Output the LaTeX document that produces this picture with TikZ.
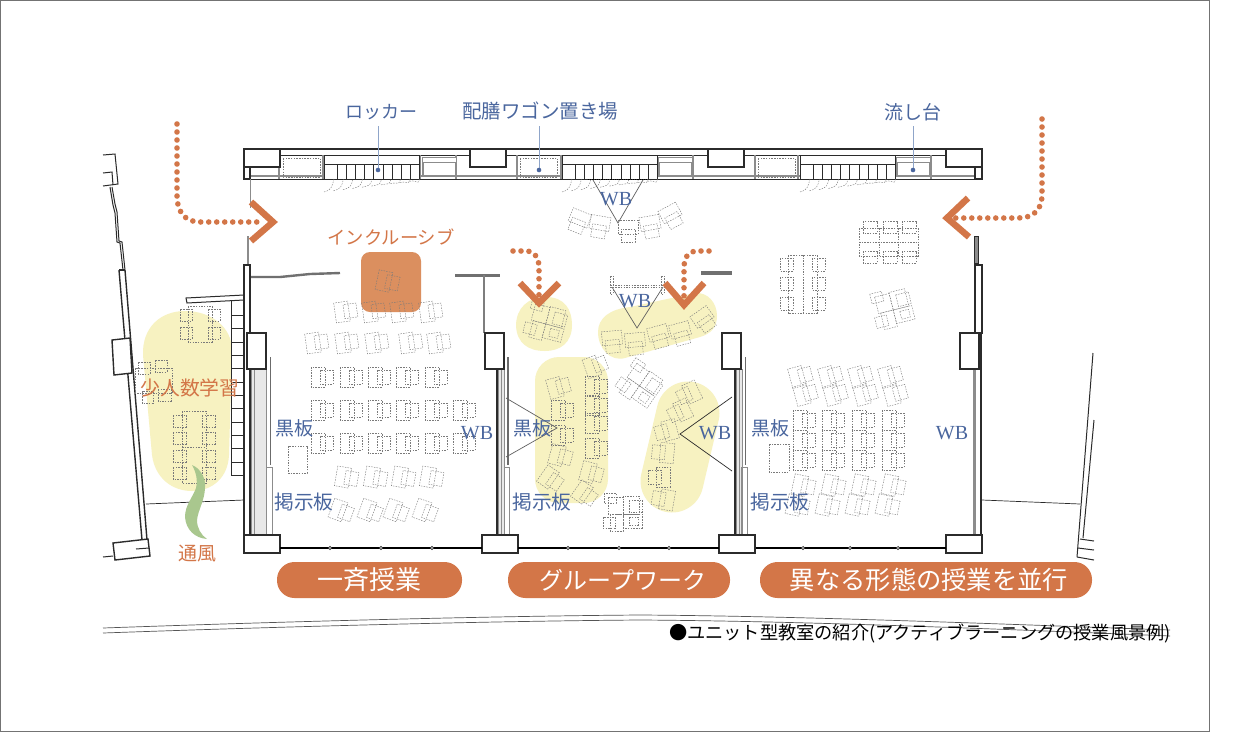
\documentclass[tikz,border=0pt]{standalone}
\usepackage{fontspec}
\setmainfont{Liberation Serif}
\newfontfamily\jp{Noto Sans CJK JP}
\definecolor{orangeA}{HTML}{D37648}
\definecolor{orangeB}{HTML}{DB8F5F}
\definecolor{blueA}{HTML}{4A669E}
\definecolor{blueB}{HTML}{8FA5C9}
\definecolor{yelA}{HTML}{F7F2C1}
\definecolor{greenA}{HTML}{A9C78E}
\definecolor{wallA}{HTML}{2B2B2B}
\definecolor{wallB}{HTML}{8C8C8C}
\definecolor{furnA}{HTML}{7A7A7A}
\newcommand{\fs}[1]{\fontsize{#1}{#1}\selectfont}
\tikzset{
 furn/.style={draw=furnA,line width=.42pt,dash pattern=on 1.5pt off 1.2pt},
 desk/.pic={\draw[furn] (-7,-10) rectangle (7,10); \draw[furn] (2,-7) rectangle (15,7);},
 cluster/.pic={
  \draw[furn] (-15,-16) rectangle (0,1);
  \draw[furn] (0,-17) rectangle (16,1);
  \draw[furn] (-13,1) rectangle (0,18);
  \draw[furn] (0,1) rectangle (19,15);
  \draw[furn] (-19,-20) rectangle (-7,-10);
  \draw[furn] (6,-13) rectangle (19,-1);
  \draw[furn] (-20,4) rectangle (-8,15);
  \draw[furn] (6,4) rectangle (15,12);},
 wall/.style={draw=wallA,line width=1.4pt},
 wallthin/.style={draw=wallA,line width=1pt},
 pillar/.style={draw=wallA,line width=1.4pt,fill=white},
 graywall/.style={draw=wallB,line width=1.1pt},
 road/.style={draw=wallA!80,line width=.7pt},
 leader/.style={draw=blueB,line width=.9pt},
 sight/.style={draw=wallA!75,line width=.7pt},
 dots/.style={draw=orangeA,line width=5.6pt,line cap=round,dash pattern=on 0pt off 8pt},
 chev/.style={draw=orangeA,line width=6.5pt},
 lblblue/.style={text=blueA,inner sep=0pt,font=\jp\fs{19}},
 lblwb/.style={text=blueA,inner sep=0pt,font=\fs{20}},
 lblor/.style={text=orangeA,inner sep=0pt,font=\jp\fs{19}},
 banner/.style={fill=orangeA,rounded corners=17.5pt},
 bantext/.style={text=white,inner sep=0pt},
 hinge/.style={draw=wallA,fill=white,line width=.6pt},
}
\begin{document}
\begin{tikzpicture}[x=1pt,y=-1pt]
\useasboundingbox (0,0) rectangle (1236,732);
\fill[white] (0,0) rectangle (1236,732);
\draw[draw=black!55,line width=1pt] (0.5,0.5) rectangle (1209,731);

% yellow zones
\fill[yelA] (185,311) .. controls (160,311) and (142,328) .. (143,355) -- (152,455) .. controls (155,478) and (172,491) .. (192,491) .. controls (212,491) and (228,478) .. (229,455) -- (232,350) .. controls (232,328) and (212,311) .. (185,311) -- cycle;
\fill[yelA] (546,297) .. controls (565,297) and (572,310) .. (572,325) .. controls (572,343) and (560,351) .. (545,351) .. controls (528,351) and (517,343) .. (516,326) .. controls (516,308) and (528,297) .. (546,297) -- cycle;
\fill[yelA] (598,332) .. controls (598,318) and (610,309) .. (630,307) -- (695,293) .. controls (708,292) and (717,303) .. (717,316) .. controls (717,328) and (710,334) .. (700,337) -- (625,358) .. controls (610,362) and (598,348) .. (598,332) -- cycle;
\fill[yelA,rounded corners=24pt] (535,357) rectangle (608,503);
\draw[yelA,line width=63pt,line cap=round] (688,413) -- (672,481);
\fill[orangeB,rounded corners=9pt] (361,252) rectangle (421,312);

% outer left structure
\draw[wallthin] (103,155) -- (115,154) -- (118,184) -- (103,186);
\draw[wallthin] (103,173) -- (112,172) -- (113,185);
\draw[wallthin] (110,187) -- (113,205) -- (115,213) -- (117,242) -- (120,243) -- (123,270);
\draw[wallthin] (112,187) -- (115,204) -- (117,212) -- (119,241) -- (122,242) -- (125,270);
\draw[wall] (119,270) -- (125,270);
\draw[wall] (119,270) -- (142,540);
\draw[wall] (125,270) -- (147,540);
\draw[pillar] (112,340) -- (130,338) -- (132,373) -- (114,375) -- cycle;
\draw[pillar] (113,543) -- (148,539) -- (150,556) -- (115,560) -- cycle;
\draw[wallthin] (103,557) -- (113,556);
\draw[wallthin] (136,549) -- (149,548);
\draw[draw=wallA,line width=.7pt] (146,504) -- (244,500);
% shelves
\draw[wallthin,fill=white] (186,298) -- (244,295) -- (244,300) -- (187,303) -- cycle;
\draw[wallthin] (231,301) -- (231,475) -- (244,475);
\foreach \y in {315,328,342,355,368,382,395,408,422,435,448,462} \draw[wallthin] (231,\y) -- (244,\y);

% outer right structure
\draw[draw=wallA,line width=.7pt] (982,500) -- (1080,504);
\draw[wallthin] (1093,353) -- (1077,557);
\draw[wallthin] (1094,420) -- (1083,538);
\draw[wallthin] (1080,539) -- (1094,541);
\draw[wallthin] (1078,548) -- (1094,550);
\draw[wallthin] (1077,557) -- (1094,560);

% top service band
\draw[draw=wallA,line width=1.8pt] (244,149) -- (982,149);
\foreach \a/\b in {280/470,506/708,744/946} \draw[wallthin] (\a,155) -- (\b,155);
\draw[graywall] (250,176) -- (975,176);
\draw[wallthin] (250,179) -- (975,179);
\foreach \x in {279,323,420,456,517,561,657,693,755,798,895,931} \draw[graywall,line width=1.6pt] (\x,155) -- (\x,179);
\foreach \x in {283,520,758} \draw[furn] (\x,158) rectangle ++(37,19);
\foreach \x in {422,658,896} {
 \draw[graywall,fill=white,line width=.8pt] (\x,157) rectangle ++(34,19);
 \draw[graywall,fill=white,line width=.8pt] (\x+1,162) rectangle ++(32,13);
}
\foreach \x in {324,562,800} {
 \draw[wallthin,fill=white] (\x,155.5) rectangle ++(95,23.5);
 \draw[wallthin] (\x,164) -- ++(95,0);
 \foreach \d in {13,22.2,31.4,40.6,49.8,59,68.2,77.4,86.6} \draw[draw=wallA,line width=.7pt] (\x+\d,164) -- (\x+\d,179);
 \foreach \d in {0,9.5,19,28.5,38,47.5,57,66.5,76,85.5}
   \draw[furn] (\x+\d,192-\d/8) .. controls (\x+\d+8,190-\d/8) and (\x+\d+8,186) .. (\x+\d+10,179);
}
\foreach \x in {244,470,708,946} \draw[pillar] (\x,149) rectangle ++(36,18);
\draw[pillar] (244,167) rectangle (250,179);
\draw[pillar] (975,167) rectangle (982,179);

% partitions and wings
\draw[graywall,line width=1.6pt] (250.5,179) -- (250.5,208);
\draw[graywall] (248,236) -- (248,264);
\draw[draw=wallB,line width=3pt] (976,237) -- (976,264);
\draw[draw=wallA,line width=.6pt] (974,236) rectangle (978,263);
\draw[draw=wallB!80!black,line width=2.4pt] (250,277) -- (280,277) -- (310,274) -- (340,273);
\draw[draw=wallB!80!black,line width=3pt] (455,275) -- (500,275);
\draw[draw=wallB!80!black,line width=3.5pt] (701,273) -- (732,273);
\draw[draw=wallB!90!black,line width=1.6pt] (484,275) -- (484,333);

% classroom walls
\draw[wall,fill=white] (244,265) rectangle (250,535);
\draw[draw=wallA,line width=1.2pt,fill=white] (975,265) rectangle (982,333);
\foreach \a/\b in {250/266,497/504,735/742} {
 \fill[black!9] (\a+1,369) rectangle (\b,535);
 \draw[draw=wallB,line width=.9pt] (\a+1,369) -- (\a+1,535);
 \draw[draw=wallB,line width=.9pt] (\a+4,369) -- (\a+4,535);
 \draw[draw=wallB,line width=.9pt] (\b,369) -- (\b,535);
}
\draw[wall] (497,369) -- (497,535);
\draw[wall] (735,369) -- (735,535);
\draw[draw=wallB,line width=3pt] (974,369) -- (974,535);
\draw[wall] (981,333) -- (981,535);
\foreach \x in {270.5,508,745.5} {
 \draw[draw=wallA!70,line width=1.8pt] (\x,357) -- (\x,465);
 \draw[draw=wallB,line width=.9pt] (\x-4,467) rectangle (\x+1.5,535);
}
\foreach \x in {247,485,722,960} \draw[pillar] (\x,333) rectangle ++(19,36);
\foreach \x in {244,482,719,946} \draw[pillar] (\x,535) rectangle ++(36,18);
\foreach \a/\b in {280/482,518/719,756/946} \draw[draw=black,line width=1.6pt] (\a,548) -- (\b,548);
\foreach \x in {330,381,432,568,619,669,803,850,898} \draw[hinge] (\x,548) circle (1.6);

% sight lines of the white boards
\draw[sight] (593,180) -- (618,223) -- (643,180);
\draw[draw=black,line width=1.8pt,dash pattern=on 1pt off .8pt] (588,179.5) -- (647,179.5);
\draw[sight] (612,287) -- (637,328) -- (663,287);
\draw[furn] (610,285) -- (664,285) (610,287) -- (664,287);
\draw[furn] (610,276) rectangle (613,294);
\draw[furn] (661,276) rectangle (664,294);
\draw[sight] (506,398) -- (557,428) -- (506,457);
\draw[sight,draw=wallA] (732,397) -- (680,434) -- (732,471);

% furniture, small group room
\draw[furn] (188,306) rectangle (212,342);
\foreach \a/\b in {180/309,208/309,180/327,208/327} \draw[furn] (\a,\b) rectangle ++(12,12);
\draw[furn] (182,411) rectangle (206,483);
\draw[furn] (182,447) -- (206,447);
\foreach \y in {415,432,450,467} {\draw[furn] (173,\y) rectangle ++(13,12); \draw[furn] (202,\y) rectangle ++(13,12);}
\draw[furn] (135,368) rectangle (172,393);
\draw[furn] (138,362) rectangle ++(12,12);
\draw[furn] (155,360) rectangle ++(12,12);
\draw[furn] (142,391) rectangle ++(11,12);
\draw[furn] (158,389) rectangle ++(13,12);

% green draught
\fill[greenA] (192,465) .. controls (200,468) and (206,478) .. (205,487) .. controls (205,500) and (198,510) .. (197,520) .. controls (197,528) and (201,535) .. (207,539) .. controls (195,538) and (186,530) .. (185,517) .. controls (185,505) and (193,497) .. (196,488) .. controls (198,480) and (196,472) .. (192,465) -- cycle;

% furniture, classroom 1
\pic[rotate=-12] at (384,281) {desk};
\foreach \x in {342,370,398,427} \pic[rotate=8] at (\x,312) {desk};
\foreach \x in {313,343,373,407,435} \pic[rotate=8] at (\x,343) {desk};
\foreach \x in {318,347,375,403,432} \pic at (\x,377) {desk};
\foreach \x in {318,347,375,403,432,460} \pic at (\x,410) {desk};
\foreach \x in {318,347,375,403,432,460} \pic at (\x,443) {desk};
\foreach \x in {343,372,400,428} \pic[rotate=-10] at (\x,477) {desk};
\foreach \x in {338,367,393,422} \pic[rotate=-20] at (\x,510) {desk};
\draw[furn] (288,446) rectangle (307,473);

% furniture, classroom 2
\foreach \x/\y/\r in {580/218/-112,600/223/-100,628/227/-90,650/223/-80,670/213/-62} \pic[rotate=\r] at (\x,\y) {desk};
\pic[rotate=-15] at (546,323) {cluster};
\foreach \x/\y/\r in {612/338/-85,635/340/-85,658/333/-75,680/330/-75,702/317/-55} \pic[rotate=\r] at (\x,\y) {desk};
\foreach \x/\y/\r in {555/388/15,558/410/0,558/435/0,557/455/-15,548/477/-35} \pic[rotate=\r] at (\x,\y) {desk};
\foreach \x/\y/\r in {592/367/20,592/386/0,592/405/0,592/423/0,592/448/0,588/472/-15,582/492/-35} \pic[rotate=\r] at (\x,\y) {desk};
\foreach \x/\y/\r in {692/392/205,683/410/205,670/430/195,667/453/175,663/477/180,667/500/170} \pic[rotate=\r] at (\x,\y) {desk};
\pic[rotate=-35] at (640,385) {cluster};
\pic at (623,513) {cluster};

% furniture, classroom 3
\draw[furn] (859,228) rectangle (918,256);
\draw[furn] (879,228) -- (879,256) (898,228) -- (898,256) (859,242) -- (918,242);
\foreach \x in {863,883,902} {\draw[furn] (\x,221) rectangle ++(14,12); \draw[furn] (\x,251) rectangle ++(14,12);}
\draw[furn] (788,255) rectangle (817,313);
\draw[furn] (803,255) -- (803,313);
\foreach \y in {258,277,297} {\draw[furn] (780,\y) rectangle ++(13,13); \draw[furn] (812,\y) rectangle ++(13,13);}
\pic[rotate=14] at (893,309) {cluster};
\foreach \x in {797,827,857,887} {\pic[rotate=15] at (\x,377) {desk}; \pic[rotate=15] at (\x+5,395) {desk};}
\foreach \x in {800,829,859,889} \foreach \y in {420,440,460} \pic at (\x,\y) {desk};
\foreach \x in {797,827,857,887} {\pic[rotate=-12] at (\x+3,485) {desk}; \pic[rotate=-12] at (\x-3,505) {desk};}
\draw[furn] (769,444) rectangle (789,472);

% arrows
\coordinate (aL0) at (177,124); \coordinate (aL1) at (260,222);
\draw[dots] (aL0) -- (177,195) .. controls (177,212) and (185,222) .. (200,222) -- (aL1);
\coordinate (cL) at (273,222);
\draw[chev] (251,202) -- (cL) -- (251,241);
\coordinate (aR0) at (1042,119); \coordinate (aR1) at (952,218);
\draw[dots] (aR0) -- (1042,195) .. controls (1042,210) and (1033,218) .. (1018,218) -- (aR1);
\coordinate (cR) at (947,218);
\draw[chev] (968,198) -- (cR) -- (969,237);
\coordinate (aM0) at (513,251); \coordinate (cM) at (539,303);
\draw[dots] (aM0) -- (528,251) .. controls (535,252) and (539,258) .. (539,268) -- (539,296);
\draw[chev] (520,283) -- (cM) -- (559,283);
\coordinate (aN0) at (709,251); \coordinate (cN) at (684,305);
\draw[dots] (aN0) -- (695,251) .. controls (688,252) and (684,258) .. (684,268) -- (684,296);
\draw[chev] (665,283) -- (cN) -- (704,283);

% road lines
\draw[road] (103,628) .. controls (300,621) and (500,616) .. (640,615) .. controls (800,616) and (1000,624) .. (1170,630);
\draw[road] (103,633) .. controls (300,626) and (500,621) .. (640,620) .. controls (800,621) and (1000,629) .. (1170,636);

% banners
\fill[banner] (277,562) rectangle (462,598);
\fill[banner] (508,562) rectangle (730,598);
\fill[banner] (760,562) rectangle (1092,598);
\node[bantext,font=\jp\fs{26}] (b1) at (369,580) {一斉授業};
\node[bantext,font=\jp\fs{24}] (b2) at (623,580) {グループワーク};
\node[bantext,font=\jp\fs{25.3}] (b3) at (929,580) {異なる形態の授業を並行};

% labels and leaders
\node[lblblue,font=\jp\fs{18}] (locker) at (381,112) {ロッカー};
\node[lblblue,font=\jp\fs{19.5}] (wagon) at (540,111) {配膳ワゴン置き場};
\node[lblblue] (sink) at (913,112) {流し台};
\foreach \n/\x in {lk/378,wg/539,sk/913} {
 \coordinate (\n) at (\x,170);
 \draw[leader] (\x,126) -- (\n);
 \fill[blueA] (\n) circle (2.3);
}
\node[lblor,font=\jp\fs{18.3}] (incl) at (391,237) {インクルーシブ};
\node[lblor,font=\jp\fs{19.8}] (small) at (190,388) {少人数学習};
\node[lblor] (wind) at (197,554) {通風};
\node[lblblue] (k1) at (294,428) {黒板};
\node[lblblue] (k2) at (532,428) {黒板};
\node[lblblue] (k3) at (770,428) {黒板};
\node[lblblue,font=\jp\fs{19.7}] (n1) at (304,502) {掲示板};
\node[lblblue,font=\jp\fs{19.7}] (n2) at (542,502) {掲示板};
\node[lblblue,font=\jp\fs{19.7}] (n3) at (780,502) {掲示板};
\node[lblwb] (w1) at (477,433) {WB};
\node[lblwb] (w2) at (715,433) {WB};
\node[lblwb] (w3) at (952,433) {WB};
\node[lblwb] (w4) at (616,199) {WB};
\node[lblwb] (w5) at (635,301) {WB};
\node[inner sep=0pt,anchor=east,font=\jp\fs{18.2},text=black] (cap) at (1171,633) {●ユニット型教室の紹介(アクティブラーニングの授業風景例)};
\end{tikzpicture}
\end{document}
